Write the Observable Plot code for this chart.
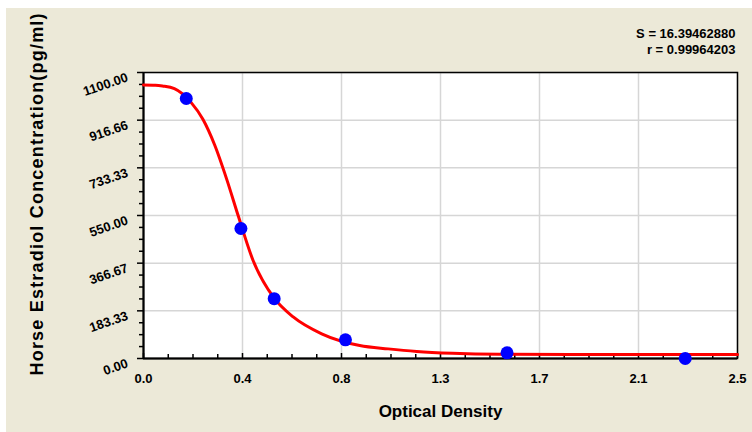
<!DOCTYPE html>
<html>
<head>
<meta charset="utf-8">
<script src="https://cdn.jsdelivr.net/npm/d3@7"></script>
<script src="https://cdn.jsdelivr.net/npm/@observablehq/plot@0.6"></script>
<style>
  html, body { margin: 0; padding: 0; background: #ffffff; }
  #wrap { position: absolute; left: 6px; top: 8px; width: 746px; height: 424px; overflow: hidden; background: #ece9d8; }
</style>
</head>
<body>
<div id="wrap"></div>
<script>
// Standard points (Optical Density, concentration pg/ml)
const pointOD = [0.18, 0.41, 0.55, 0.85, 1.53, 2.28];
const pointConc = [1000, 500, 230, 72, 22, 0];

// Fitted curve
const curveOD = [0, 0.05, 0.08, 0.13, 0.2, 0.25, 0.3, 0.35, 0.4, 0.46, 0.55, 0.63, 0.75, 0.91, 1.03, 1.15, 1.3, 1.5, 1.8, 2.1, 2.5];
const curveConc = [1052, 1051, 1048, 1038, 985, 920, 820, 690, 545, 380, 232, 160, 95, 50, 37, 27, 20, 16, 15, 15, 15];

// Axis ticks
const xTicks = [0, 0.41667, 0.83333, 1.25, 1.66667, 2.08333, 2.5];
const xTickLabels = ["0.0", "0.4", "0.8", "1.3", "1.7", "2.1", "2.5"];
const yTicks = [0, 183.33, 366.67, 550, 733.33, 916.66, 1100];
const yTickLabels = ["0.00", "183.33", "366.67", "550.00", "733.33", "916.66", "1100.00"];

const xTitle = "Optical Density";
const yTitle = "Horse Estradiol Concentration(pg/ml)";
const statsText = "S = 16.39462880\nr = 0.99964203";

const points = pointOD.map((x, i) => ({od: x, conc: pointConc[i]}));
const curve = curveOD.map((x, i) => ({od: x, conc: curveConc[i]}));

// minor ticks: 4 subdivisions between major ticks
const xMinor = [];
for (let i = 0; i < xTicks.length - 1; i++) for (let j = 1; j < 4; j++) xMinor.push(xTicks[i] + (xTicks[i + 1] - xTicks[i]) * j / 4);
const yMinor = [];
for (let i = 0; i < yTicks.length - 1; i++) for (let j = 1; j < 4; j++) yMinor.push(yTicks[i] + (yTicks[i + 1] - yTicks[i]) * j / 4);

const chart = Plot.plot({
  width: 746,
  height: 424,
  marginLeft: 137,
  marginTop: 64,
  marginRight: 15,
  marginBottom: 74,
  style: {background: "#ece9d8", fontFamily: "'Liberation Sans', Arial, sans-serif", fontSize: "13px", fontWeight: "bold", color: "#000", overflow: "hidden"},
  x: {domain: [0, 2.5], label: null},
  y: {domain: [0, 1100], label: null},
  marks: [
    Plot.frame({fill: "white", stroke: "none"}),
    Plot.gridX(xTicks, {stroke: "#d6d6d6", strokeOpacity: 1, strokeWidth: 1.5}),
    Plot.gridY(yTicks, {stroke: "#d6d6d6", strokeOpacity: 1, strokeWidth: 1.5}),
    Plot.frame({stroke: "#000", strokeWidth: 1.5}),
    Plot.ruleX([0], {stroke: "#000", strokeWidth: 2}),
    Plot.ruleY([0], {stroke: "#000", strokeWidth: 2}),
    Plot.axisY(yMinor, {tickSize: 4, tickFormat: () => "", label: null, strokeWidth: 1.5}),
    Plot.axisY(yTicks, {tickSize: 6, tickFormat: () => "", label: null, strokeWidth: 1.5}),
    Plot.axisY(yTicks, {tickSize: 0, tickPadding: 16, dy: 4.5, tickRotate: -19, tickFormat: (d, i) => yTickLabels[i], label: null, fontSize: 13, fontWeight: "bold"}),
    Plot.axisX(xMinor, {tickSize: -4, tickFormat: () => "", label: null, strokeWidth: 1.5}),
    Plot.axisX(xTicks, {tickSize: -5, tickFormat: () => "", label: null, strokeWidth: 1.5}),
    Plot.axisX(xTicks, {tickSize: 0, tickPadding: 15, tickFormat: (d, i) => xTickLabels[i], label: null, fontSize: 13, fontWeight: "bold"}),
    Plot.line(curve, {x: "od", y: "conc", stroke: "#ff0000", strokeWidth: 3, curve: "monotone-x"}),
    Plot.dot(points, {x: "od", y: "conc", r: 6.5, fill: "#0000ff", stroke: "none"}),
    Plot.text([xTitle], {frameAnchor: "bottom", lineAnchor: "bottom", dy: 58, fontSize: 17, fontWeight: "bold"}),
    Plot.text([yTitle], {frameAnchor: "left", textAnchor: "start", lineAnchor: "middle", rotate: -90, dx: -106, dy: 160, fontSize: 18, fontWeight: "bold"}),
    Plot.text([statsText], {frameAnchor: "top-right", textAnchor: "end", lineAnchor: "bottom", lineHeight: 1.23, dx: -2, dy: -19, fontSize: 13, fontWeight: "bold"})
  ]
});
chart.querySelectorAll("text").forEach(t => {
  if (t.textContent === yTitle) t.setAttribute("letter-spacing", "1.2");
});
document.getElementById("wrap").appendChild(chart);
</script>
</body>
</html>
